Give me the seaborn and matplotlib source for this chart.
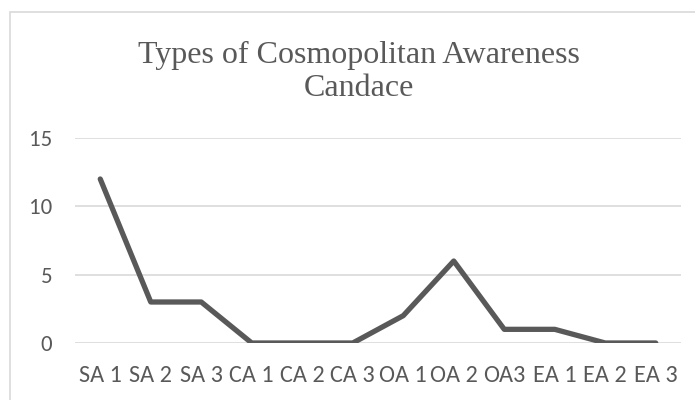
import pandas as pd
import matplotlib.pyplot as plt
import matplotlib.patches as mpatches
import seaborn as sns

# chart data
categories = ['SA 1', 'SA 2', 'SA 3', 'CA 1', 'CA 2', 'CA 3',
              'OA 1', 'OA 2', 'OA3', 'EA 1', 'EA 2', 'EA 3']
counts = [12, 3, 3, 0, 0, 0, 2, 6, 1, 1, 0, 0]
y_ticks = [0, 5, 10, 15]
title_lines = ["Types of Cosmopolitan Awareness", "Candace"]

data = pd.DataFrame({'Type': categories, 'Count': counts})

sns.set_style('white')
plt.rcParams['font.family'] = ['Carlito', 'Liberation Sans', 'DejaVu Sans']

fig = plt.figure(figsize=(6.95, 4.0), dpi=100)

# light chart border like an Excel chart frame
fig.patches.append(mpatches.Rectangle((10 / 695, -0.1), 1.0, 1.1 - 12 / 400,
                                      transform=fig.transFigure, fill=False,
                                      edgecolor='#d9d9d9', linewidth=1.2))

ax = fig.add_axes([75 / 695, 57 / 400, 606 / 695, 205 / 400])
sns.lineplot(x='Type', y='Count', data=data, sort=False, color='#595959',
             linewidth=3.8, ax=ax)

ax.set_xlim(-0.5, len(categories) - 0.5)
ax.set_ylim(0, 15)
ax.set_yticks(y_ticks)
ax.yaxis.grid(True, color='#d9d9d9', linewidth=1.2)
ax.set_axisbelow(True)
for s in ax.spines.values():
    s.set_visible(False)
ax.tick_params(axis='both', length=0, labelcolor='#595959')
ax.tick_params(axis='y', pad=16.5, labelsize=16.5)
ax.tick_params(axis='x', pad=16, labelsize=17.5)
ax.set_xlabel('')
ax.set_ylabel('')

# two-line title, serif like the original
for line, base in zip(title_lines, [63, 96]):
    fig.text(359 / 695, 1 - base / 400, line, ha='center', va='baseline',
             family=['Liberation Serif', 'DejaVu Serif'], fontsize=23,
             color='#595959')

plt.savefig('out.png', dpi=100)
